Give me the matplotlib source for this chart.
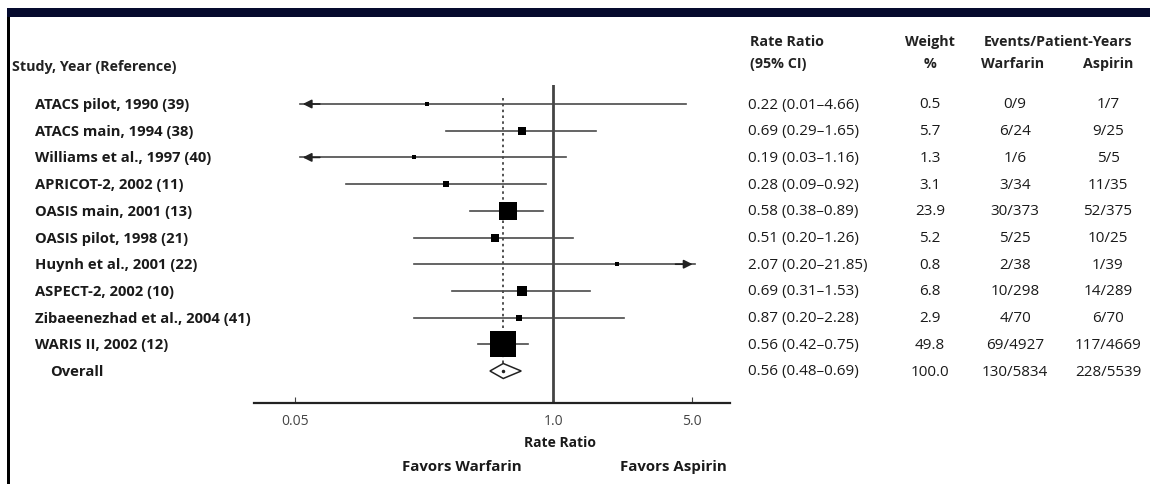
import numpy as np
import matplotlib.pyplot as plt
from matplotlib.patches import Polygon, Rectangle

plt.rcParams['font.family'] = ['Open Sans', 'DejaVu Sans']

studies = ["ATACS pilot, 1990 (39)", "ATACS main, 1994 (38)", "Williams et al., 1997 (40)",
           "APRICOT-2, 2002 (11)", "OASIS main, 2001 (13)", "OASIS pilot, 1998 (21)",
           "Huynh et al., 2001 (22)", "ASPECT-2, 2002 (10)", "Zibaeenezhad et al., 2004 (41)",
           "WARIS II, 2002 (12)"]
rr = [0.22, 0.69, 0.19, 0.28, 0.58, 0.51, 2.07, 0.69, 0.87, 0.56]
# marker positions as drawn in the figure (Zibaeenezhad plotted near 0.67)
rr_plot = [0.23, 0.70, 0.20, 0.29, 0.59, 0.51, 2.10, 0.70, 0.67, 0.56]
lo = [0.01, 0.29, 0.03, 0.09, 0.38, 0.20, 0.20, 0.31, 0.20, 0.42]
hi = [4.66, 1.65, 1.16, 0.92, 0.89, 1.26, 21.85, 1.53, 2.28, 0.75]
weight = [0.5, 5.7, 1.3, 3.1, 23.9, 5.2, 0.8, 6.8, 2.9, 49.8]
warfarin = ["0/9", "6/24", "1/6", "3/34", "30/373", "5/25", "2/38", "10/298", "4/70", "69/4927"]
aspirin = ["1/7", "9/25", "5/5", "11/35", "52/375", "10/25", "1/39", "14/289", "6/70", "117/4669"]
overall_rr, overall_lo, overall_hi = 0.56, 0.48, 0.69
overall_weight = 100.0
overall_warfarin, overall_aspirin = "130/5834", "228/5539"
ticks = [0.05, 1.0, 5.0]

W, H = 1150, 484
fig = plt.figure(figsize=(W / 100, H / 100), dpi=100)

# frame decorations (navy band on top, black rule on the left)
fig.add_artist(Rectangle((7 / W, 1 - 17 / H), 1 - 7 / W, 9 / H, transform=fig.transFigure,
                         color='#050a2e', lw=0))
fig.add_artist(Rectangle((7 / W, 0), 3 / W, 1 - 17 / H, transform=fig.transFigure,
                         color='black', lw=0))

row0, step = 104, 26.7
top_px, axis_px = 85, 403
ax = fig.add_axes([254 / W, (H - axis_px) / H, 476 / W, (axis_px - top_px) / H])
ax.set_xscale('log')
ax.set_xlim(0.0311, 7.77)
ax.set_ylim((axis_px - row0) / step, -(row0 - top_px) / step)
for s in ['top', 'left', 'right']:
    ax.spines[s].set_visible(False)
ax.spines['bottom'].set_linewidth(1.6)
ax.spines['bottom'].set_color('#222222')
ax.set_yticks([])
ax.set_xticks(ticks)
ax.set_xticklabels(["0.05", "1.0", "5.0"], fontsize=10, color='#444444')
ax.minorticks_off()
ax.tick_params(axis='x', direction='in', length=4, width=0.8, pad=8, colors='#444444')

clip_lo, clip_hi = 0.053, 5.2
ax.axvline(1.0, color='#444444', lw=2)
n = len(studies)
ax.plot([overall_rr, overall_rr], [-0.22, n - 0.3], ls=(0, (1.5, 2)), color='#333333', lw=1.2)

px = 72 / 100  # points per pixel
for i in range(n):
    l = max(lo[i], clip_lo)
    h = min(hi[i], clip_hi)
    ax.plot([l, h], [i, i], color='#4a4a4a', lw=1.2, zorder=2)
    if lo[i] < clip_lo:
        ax.annotate('', xy=(clip_lo, i), xytext=(clip_lo * 1.3, i),
                    arrowprops=dict(arrowstyle='-|>', color='#222222', lw=1.2, mutation_scale=13))
    if hi[i] > clip_hi:
        ax.annotate('', xy=(clip_hi, i), xytext=(clip_hi / 1.3, i),
                    arrowprops=dict(arrowstyle='-|>', color='#222222', lw=1.2, mutation_scale=13))
    side = max(5.0, 3.6 * np.sqrt(weight[i]))
    ax.plot(rr_plot[i], i, marker='s', color='black', ms=side * px, mew=0, zorder=3)

# overall diamond
dh = 7.5 / step
ax.add_patch(Polygon([(overall_lo, n), (overall_rr, n - dh), (overall_hi, n), (overall_rr, n + dh)],
                     closed=True, facecolor='white', edgecolor='#222222', lw=1.1, zorder=3))
ax.plot(overall_rr, n, marker='o', color='#222222', ms=1.5, zorder=4)

# texts
def txt(x, y, s, **kw):
    kw.setdefault('fontsize', 11)
    kw.setdefault('color', '#1a1a1a')
    fig.text(x / W, 1 - y / H, s, va='center', **kw)

hdr = dict(fontsize=10.3, fontweight='bold', color='#222222')
txt(12, 67, "Study, Year (Reference)", **hdr)
txt(750, 42, "Rate Ratio", **hdr)
txt(750, 64, "(95% CI)", **hdr)
txt(930, 42, "Weight", ha='center', **hdr)
txt(930, 64, "%", ha='center', **hdr)
txt(1058, 42, "Events/Patient-Years", ha='center', **hdr)
txt(1013, 64, "Warfarin", ha='center', **hdr)
txt(1108, 64, "Aspirin", ha='center', **hdr)

name = dict(fontsize=10.6, fontweight='bold')
for i in range(n):
    y = row0 + 1 + i * step
    txt(35, y, studies[i], **name)
    txt(748, y, f"{rr[i]:.2f} ({lo[i]:.2f}\u2013{hi[i]:.2f})")
    txt(930, y, f"{weight[i]:.1f}", ha='center')
    txt(1015, y, warfarin[i], ha='center')
    txt(1108, y, aspirin[i], ha='center')

y = row0 + 1 + n * step
txt(50, y, "Overall", **name)
txt(748, y, f"{overall_rr:.2f} ({overall_lo:.2f}\u2013{overall_hi:.2f})")
txt(930, y, f"{overall_weight:.1f}", ha='center')
txt(1015, y, overall_warfarin, ha='center')
txt(1108, y, overall_aspirin, ha='center')

txt(560, 443, "Rate Ratio", ha='center', fontsize=10, fontweight='bold')
txt(462, 467, "Favors Warfarin", ha='center', fontsize=10.8, fontweight='bold')
txt(673, 467, "Favors Aspirin", ha='center', fontsize=10.8, fontweight='bold')

fig.savefig("out.png", dpi=100)
